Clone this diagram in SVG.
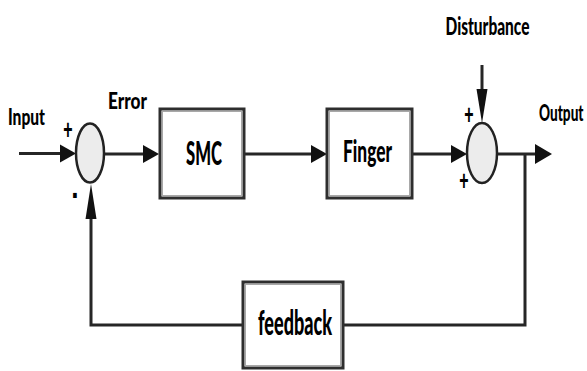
<svg xmlns="http://www.w3.org/2000/svg" width="587" height="371" viewBox="0 0 587 371">
  <style>
    .box { fill: #ffffff; stroke: #2e2e2e; stroke-width: 3; }
    .inner { fill: none; stroke: #a8a8a8; stroke-width: 1; }
    .sum { fill: #ececec; stroke: #222222; stroke-width: 2.5; }
    .wire { fill: none; stroke: #262626; stroke-width: 3; stroke-linejoin: miter; }
    .head { fill: #111111; stroke: none; }
    .lbl { font-family: Lato, "Liberation Sans", Arial, sans-serif; font-weight: 900; fill: #000000; }
    .sign { font-family: "Liberation Sans", Arial, sans-serif; font-weight: bold; fill: #000000; text-anchor: middle; }
  </style>
  <rect x="0" y="0" width="587" height="371" fill="#ffffff"/>

  <g id="connectors">
    <!-- Input -> sum1 -->
    <line class="wire" x1="19" y1="153.5" x2="62" y2="153.5"/>
    <polygon class="head" points="60,144.5 76,153.5 60,162.5"/>
    <!-- sum1 -> SMC (Error) -->
    <line class="wire" x1="104" y1="154" x2="145" y2="154"/>
    <polygon class="head" points="143,145 159,154 143,163"/>
    <!-- SMC -> Finger -->
    <line class="wire" x1="244" y1="154" x2="313" y2="154"/>
    <polygon class="head" points="311,145 327,154 311,163"/>
    <!-- Finger -> sum2 -->
    <line class="wire" x1="412" y1="154" x2="453" y2="154"/>
    <polygon class="head" points="451,145 467,154 451,163"/>
    <!-- Disturbance -> sum2 -->
    <line class="wire" x1="482" y1="65" x2="482" y2="92"/>
    <polygon class="head" points="476.5,89 487.5,89 482,123"/>
    <!-- sum2 -> Output -->
    <line class="wire" x1="497" y1="154" x2="537" y2="154"/>
    <polygon class="head" points="535,144 552,154 535,164"/>
    <!-- feedback loop -->
    <polyline class="wire" points="525,154 525,325 343,325"/>
    <polyline class="wire" points="243,325 91,325 91,216"/>
    <polygon class="head" points="85.5,219 96.5,219 91,184"/>
  </g>

  <g id="labels">
    <text class="lbl" x="8" y="125" font-size="23.5" textLength="37" lengthAdjust="spacingAndGlyphs">Input</text>
    <text class="lbl" x="108" y="109" font-size="22.5" textLength="39" lengthAdjust="spacingAndGlyphs">Error</text>
    <text class="lbl" x="445.5" y="34.5" font-size="24" textLength="84" lengthAdjust="spacingAndGlyphs">Disturbance</text>
    <text class="lbl" font-size="22" transform="translate(539,121) scale(0.62,1)">Output</text>
  </g>

  <g id="sum1">
    <ellipse class="sum" cx="90" cy="153" rx="14" ry="29.5"/>
    <text class="sign" font-size="16" transform="translate(68,139) scale(1,1.7)">+</text>
    <text class="sign" font-size="12" transform="translate(75,207) scale(1.2,3.5)">-</text>
  </g>

  <g id="smc">
    <rect class="box" x="160" y="109" width="84" height="89"/>
    <rect class="inner" x="162.5" y="111.5" width="79" height="84"/>
    <text class="lbl" x="186" y="165" font-size="32.5" textLength="36" lengthAdjust="spacingAndGlyphs">SMC</text>
  </g>

  <g id="finger">
    <rect class="box" x="327" y="109" width="85" height="89"/>
    <rect class="inner" x="329.5" y="111.5" width="80" height="84"/>
    <text class="lbl" x="343" y="162" font-size="30" textLength="49" lengthAdjust="spacingAndGlyphs">Finger</text>
  </g>

  <g id="sum2">
    <ellipse class="sum" cx="482" cy="153" rx="15" ry="30"/>
    <text class="sign" font-size="16" transform="translate(469,124) scale(1,1.7)">+</text>
    <text class="sign" font-size="16" transform="translate(464,190) scale(1,1.7)">+</text>
  </g>

  <g id="feedback">
    <rect class="box" x="243" y="282" width="100" height="86"/>
    <rect class="inner" x="245.5" y="284.5" width="95" height="81"/>
    <text class="lbl" x="258" y="335" font-size="34" textLength="74" lengthAdjust="spacingAndGlyphs">feedback</text>
  </g>
</svg>
